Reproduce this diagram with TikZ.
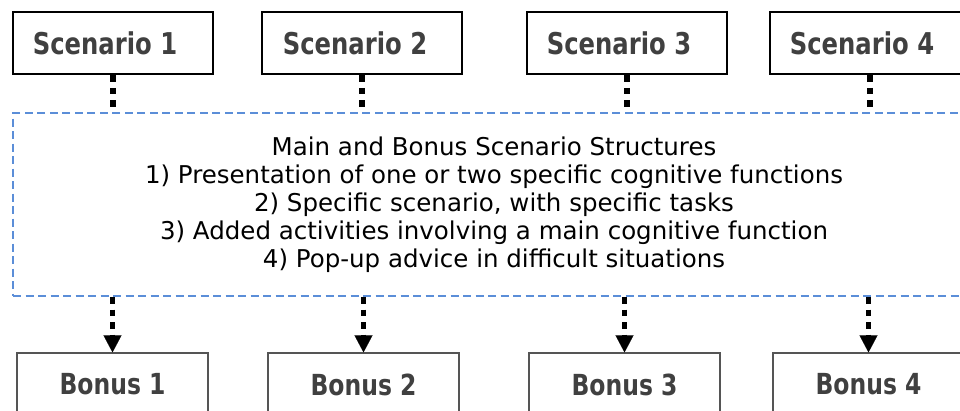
\documentclass[tikz,border=0pt]{standalone}
\usepackage{fontspec}
\setmainfont{DejaVu Sans}
\newfontfamily\labelfont[FakeStretch=0.9]{DejaVu Sans Condensed}
\usetikzlibrary{arrows.meta}
\definecolor{labelgray}{HTML}{404040}
\definecolor{dashblue}{HTML}{5B8ED8}
\definecolor{bonusgray}{HTML}{555555}
\tikzset{
  scenbox/.style={draw=black, line width=2.8pt, minimum width=200pt, minimum height=62pt,
    inner sep=0pt, text=labelgray, font=\labelfont\fontsize{30}{34}\selectfont\bfseries},
  bonbox/.style={draw=bonusgray, line width=1.3pt, minimum width=191pt, minimum height=63pt,
    inner sep=0pt, text=labelgray, font=\labelfont\fontsize{29}{34}\selectfont\bfseries},
  mainbox/.style={draw=dashblue, line width=2pt, dash pattern=on 8pt off 4.5pt,
    minimum width=962pt, minimum height=183pt, inner sep=0pt,
    align=center, font=\fontsize{24.5}{28}\selectfont},
  dotline/.style={draw=black, line width=5.5pt, dash pattern=on 6.5pt off 6pt},
  dotarrow/.style={dotline, -{Triangle[width=18pt,length=17pt,line width=0.1pt]}}
}
\begin{document}
\begin{tikzpicture}[x=1pt,y=-1pt]
\useasboundingbox (0,0) rectangle (960,410);
\clip (0,0) rectangle (960,410);
\node[mainbox] (main) at (494,204.5) {Main and Bonus Scenario Structures\\
1) Presentation of one or two specific cognitive functions\\
2) Specific scenario, with specific tasks\\
3) Added activities involving a main cognitive function\\
4) Pop-up advice in difficult situations};
\node[scenbox] (s1) at (113,43) {Scenario 1\hspace*{16pt}};
\node[scenbox] (s2) at (362,43) {Scenario 2\hspace*{14pt}};
\node[scenbox] (s3) at (627,43) {Scenario 3\hspace*{16pt}};
\node[scenbox] (s4) at (870,43) {Scenario 4\hspace*{16pt}};
\node[bonbox] (b1) at (112.5,384.5) {Bonus 1};
\node[bonbox] (b2) at (363.5,384.5) {Bonus 2};
\node[bonbox] (b3) at (624.5,384.5) {Bonus 3};
\node[bonbox] (b4) at (868.5,384.5) {Bonus 4};
\foreach \s in {s1,s2,s3,s4}{
  \draw[dotline] (\s.south) -- (\s.south |- main.north);
}
\foreach \b in {b1,b2,b3,b4}{
  \draw[dotarrow] (\b.north |- main.south) -- (\b.north);
}
\end{tikzpicture}
\end{document}
